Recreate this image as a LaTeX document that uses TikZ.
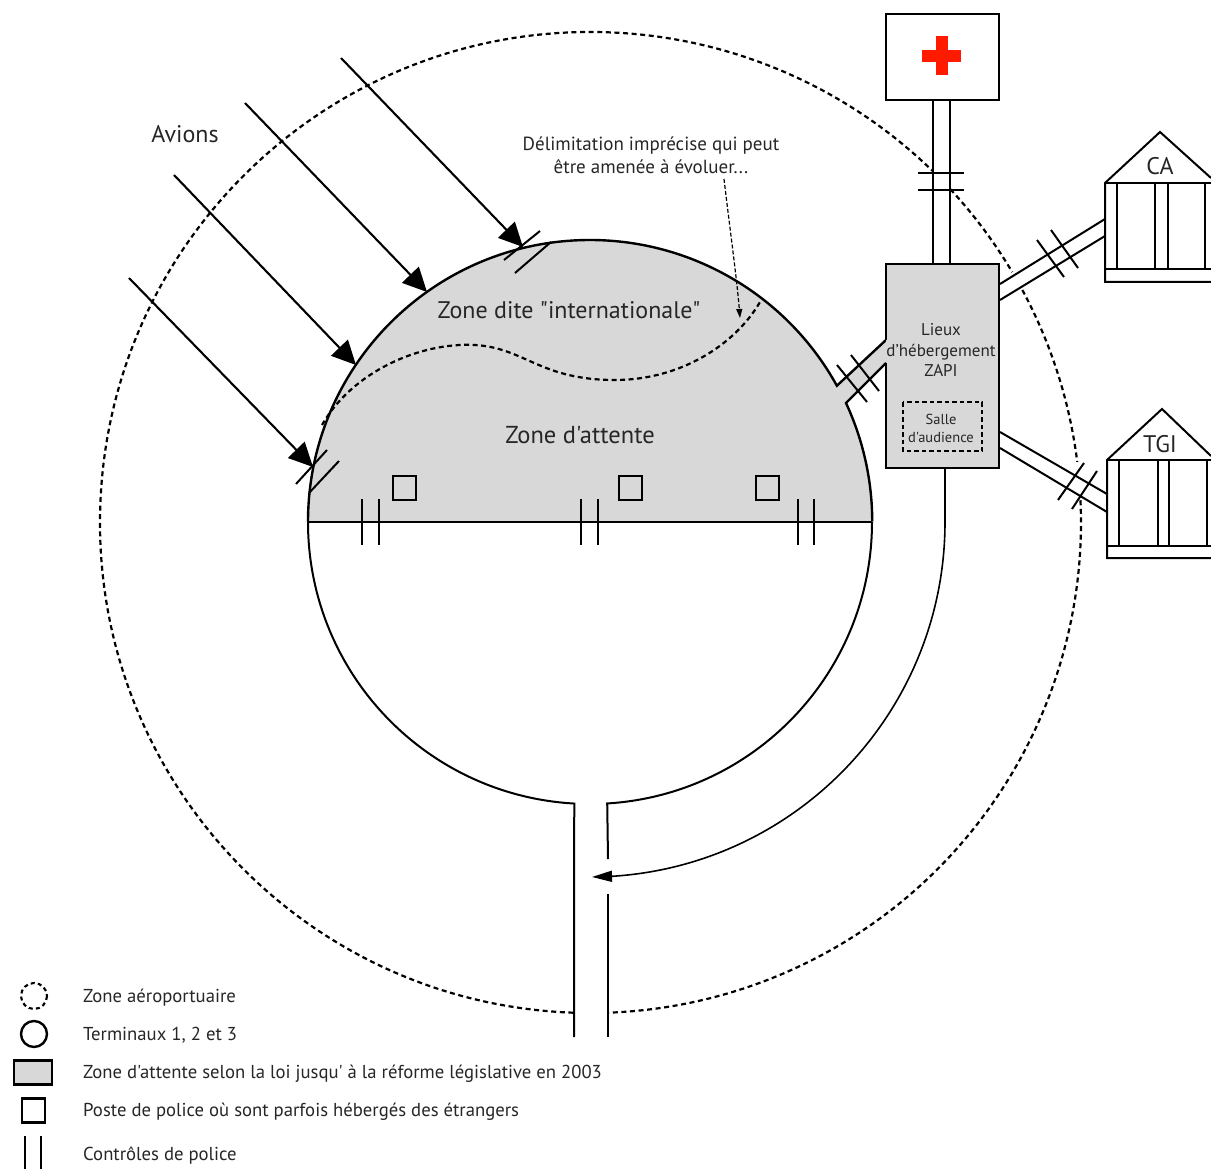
\documentclass[tikz,border=0pt]{standalone}
\usepackage{fontspec}
\setmainfont[Ligatures=TeXOff]{PT Sans}
\usetikzlibrary{arrows.meta,calc}
\definecolor{zonegray}{HTML}{D8D8D8}
\definecolor{crossred}{HTML}{FF1A00}
\tikzset{
  outline/.style={line width=2.4pt,black},
  thinl/.style={line width=2pt,black},
  barl/.style={line width=2pt,black},
  dashcirc/.style={line width=2.2pt,black,dash pattern=on 5pt off 3.6pt},
  plane/.style={line width=2.1pt,black,-{Triangle[length=24pt,width=23pt]}},
  boxed/.style={draw=black,line width=2.4pt,fill=white,minimum width=0pt,inner sep=0pt},
  lbl/.style={inner sep=0pt,align=center,text=black!85},
  leg/.style={inner sep=0pt,anchor=west,text=black!85,font=\fontsize{18.7}{20}\selectfont}
}
\begin{document}
\begin{tikzpicture}[x=1pt,y=1pt,yscale=-1]
\useasboundingbox (0,0) rectangle (1211,1169);
% airport zone
\coordinate (C) at (590.5,522.5);
\draw[dashcirc] (C) ++(92:490.5) arc[start angle=92,end angle=314.2,radius=490.5pt];
\draw[dashcirc] (C) ++(317.2:490.5) arc[start angle=317.2,end angle=329.3,radius=490.5pt];
\draw[dashcirc] (C) ++(331.7:490.5) arc[start angle=331.7,end angle=352.9,radius=490.5pt];
\draw[dashcirc] (C) ++(357.4:490.5) arc[start angle=357.4,end angle=448,radius=490.5pt];
% grey zone + terminal outline
\coordinate (T) at (590,522);
\coordinate (gl) at (308,522);
\coordinate (gr) at (872,522);
\coordinate (nu) at (886,340);
\coordinate (nl) at (886,363);
\fill[zonegray] (gl) arc[start angle=180,end angle=331.1,radius=282pt] -- (nu) -- (nl) -- (846,403) arc[start angle=335.1,end angle=360,radius=282pt] -- cycle;
\draw[outline] (gl) arc[start angle=180,end angle=331.1,radius=282pt] -- (nu);
\draw[outline] (nl) -- (846,403) arc[start angle=335.1,end angle=360,radius=282pt];
\draw[thinl] (gr) arc[start angle=0,end angle=86.5,radius=282pt] -- (608,859);
\draw[thinl] (gl) arc[start angle=180,end angle=93.2,radius=282pt] -- (574,1037);
\draw[thinl] (608,894) -- (608,1037);
\draw[outline] (gl) -- (gr);
% squares
\foreach \n/\x in {a/404.5,b/630.5,c/767.5}
  \node[boxed,fill=none,minimum width=23pt,minimum height=24pt] (sq\n) at (\x,488) {};
% terminal control bars
\foreach \x in {362,379,581,598,798,814}
  \draw[barl] (\x,499) -- (\x,545);
% hospital
\node[boxed,minimum width=113pt,minimum height=86pt] (hosp) at (942.5,57) {};
\fill[crossred] (936,36) rectangle (948,75);
\fill[crossred] (922,50) rectangle (961,62);
% ZAPI box
\node[fill=zonegray,minimum width=113pt,minimum height=204pt,inner sep=0pt] (zapi) at (942.5,366) {};
\draw[outline] (nu) -- (886,264) -- (999,264) -- (999,468) -- (886,468) -- (nl);
\draw[thinl] (hosp.south -| 933,0) -- (zapi.north -| 933,0);
\draw[thinl] (hosp.south -| 950,0) -- (zapi.north -| 950,0);
\draw[barl] (918,173) -- (964,173);
\draw[barl] (918,190) -- (964,190);
\node[lbl,font=\fontsize{17}{20.8}\selectfont] (lieux) at (941,350) {Lieux\\d’hébergement\\ZAPI};
\draw[line width=2.2pt,dash pattern=on 4.5pt off 3pt] (903,402) rectangle (982,451);
\node[lbl,font=\fontsize{14.5}{18}\selectfont] (salle) at (941,428) {Salle\\d'audience};
% corridor bars to terminal
\draw[barl] (851,355) -- (879,391);
\draw[barl] (837,365) -- (867,402);
% CA
\coordinate (ca1) at (1105,183);
\draw[thinl] (1211,178) -- (1160,132) -- (ca1) -- (1105,282) -- (1211,282);
\draw[thinl] (ca1) -- (1211,183);
\draw[thinl] (1105,269) -- (1211,269);
\foreach \x in {1117,1155,1168,1205} \draw[thinl] (\x,183) -- (\x,269);
\node[lbl,font=\fontsize{24}{24}\selectfont] (ca) at (1160,166) {CA};
\draw[thinl] (1000,284) -- (1105,219);
\draw[thinl] (1000,300) -- (1105,236);
\draw[barl] (1037,240) -- (1064,277);
\draw[barl] (1051,230) -- (1078,268);
% TGI
\coordinate (tg1) at (1107,460);
\draw[thinl] (1211,456) -- (1162,409) -- (tg1) -- (1107,558) -- (1211,558);
\draw[thinl] (tg1) -- (1211,460);
\draw[thinl] (1107,546) -- (1211,546);
\foreach \x in {1119,1158,1169,1207} \draw[thinl] (\x,460) -- (\x,546);
\node[lbl,font=\fontsize{24}{24}\selectfont] (tgi) at (1160,444) {TGI};
\draw[thinl] (1000,432) -- (1107,494);
\draw[thinl] (1000,448) -- (1107,512);
\draw[barl] (1084,463) -- (1058,500);
\draw[barl] (1097,471) -- (1072,509);
% planes
\draw[plane] (341,58) -- (523,247);
\draw[plane] (245,103) -- (427,292);
\draw[plane] (174,175) -- (356,365);
\draw[plane] (129,278) -- (313,467);
\draw[barl] (504,260) -- (540,231);
\draw[barl] (515,273) -- (551,242);
\draw[barl] (296,484) -- (327,450);
\draw[barl] (309,493) -- (339,461);
% limit
\draw[line width=2.2pt,dash pattern=on 5pt off 3.5pt] (322,425) .. controls (352,372) and (420,342) .. (475,345) .. controls (525,348) and (540,380) .. (615,380) .. controls (680,380) and (735,345) .. (760,302);
\coordinate (limit) at (740,318);
\coordinate (note) at (724,179);
\draw[line width=1.2pt,dash pattern=on 4pt off 2pt,-{Triangle[length=9pt,width=6pt]}] (note) .. controls (730,230) and (737,280) .. (limit);
% return arrow
\draw[line width=1.6pt,-{Triangle[length=20pt,width=11pt]}] (945,468) -- (945,522) arc[start angle=0,end angle=86.5,radius=355pt] -- (592,877);
% labels
\node[lbl,font=\fontsize{24}{24}\selectfont] (avions) at (185,134) {Avions};
\node[lbl,font=\fontsize{19}{23.5}\selectfont] (delim) at (651,155.5) {Délimitation imprécise qui peut\\être amenée à évoluer...};
\node[lbl,font=\fontsize{24}{24}\selectfont] (zint) at (569,310) {Zone dite "internationale"};
\node[lbl,font=\fontsize{24.5}{24}\selectfont] (zatt) at (580,435) {Zone d'attente};
% legend
\draw[line width=2.1pt,dash pattern=on 4pt off 3.2pt] (34,996) circle[radius=13pt];
\draw[outline] (34,1034) circle[radius=13pt];
\node[boxed,fill=zonegray,minimum width=38pt,minimum height=24pt] (lgrey) at (33,1072.5) {};
\node[boxed,minimum width=23pt,minimum height=24pt] (lsq) at (33.5,1110.5) {};
\draw[barl] (25,1136) -- (25,1169);
\draw[barl] (41,1136) -- (41,1169);
\node[leg] (l1) at (83,997.5) {Zone aéroportuaire};
\node[leg] (l2) at (83,1035.5) {Terminaux 1, 2 et 3};
\node[leg] (l3) at (83,1073.5) {Zone d'attente selon la loi jusqu' à la réforme législative en 2003};
\node[leg] (l4) at (83,1111.5) {Poste de police où sont parfois hébergés des étrangers};
\node[leg] (l5) at (83,1155.5) {Contrôles de police};
\end{tikzpicture}
\end{document}
